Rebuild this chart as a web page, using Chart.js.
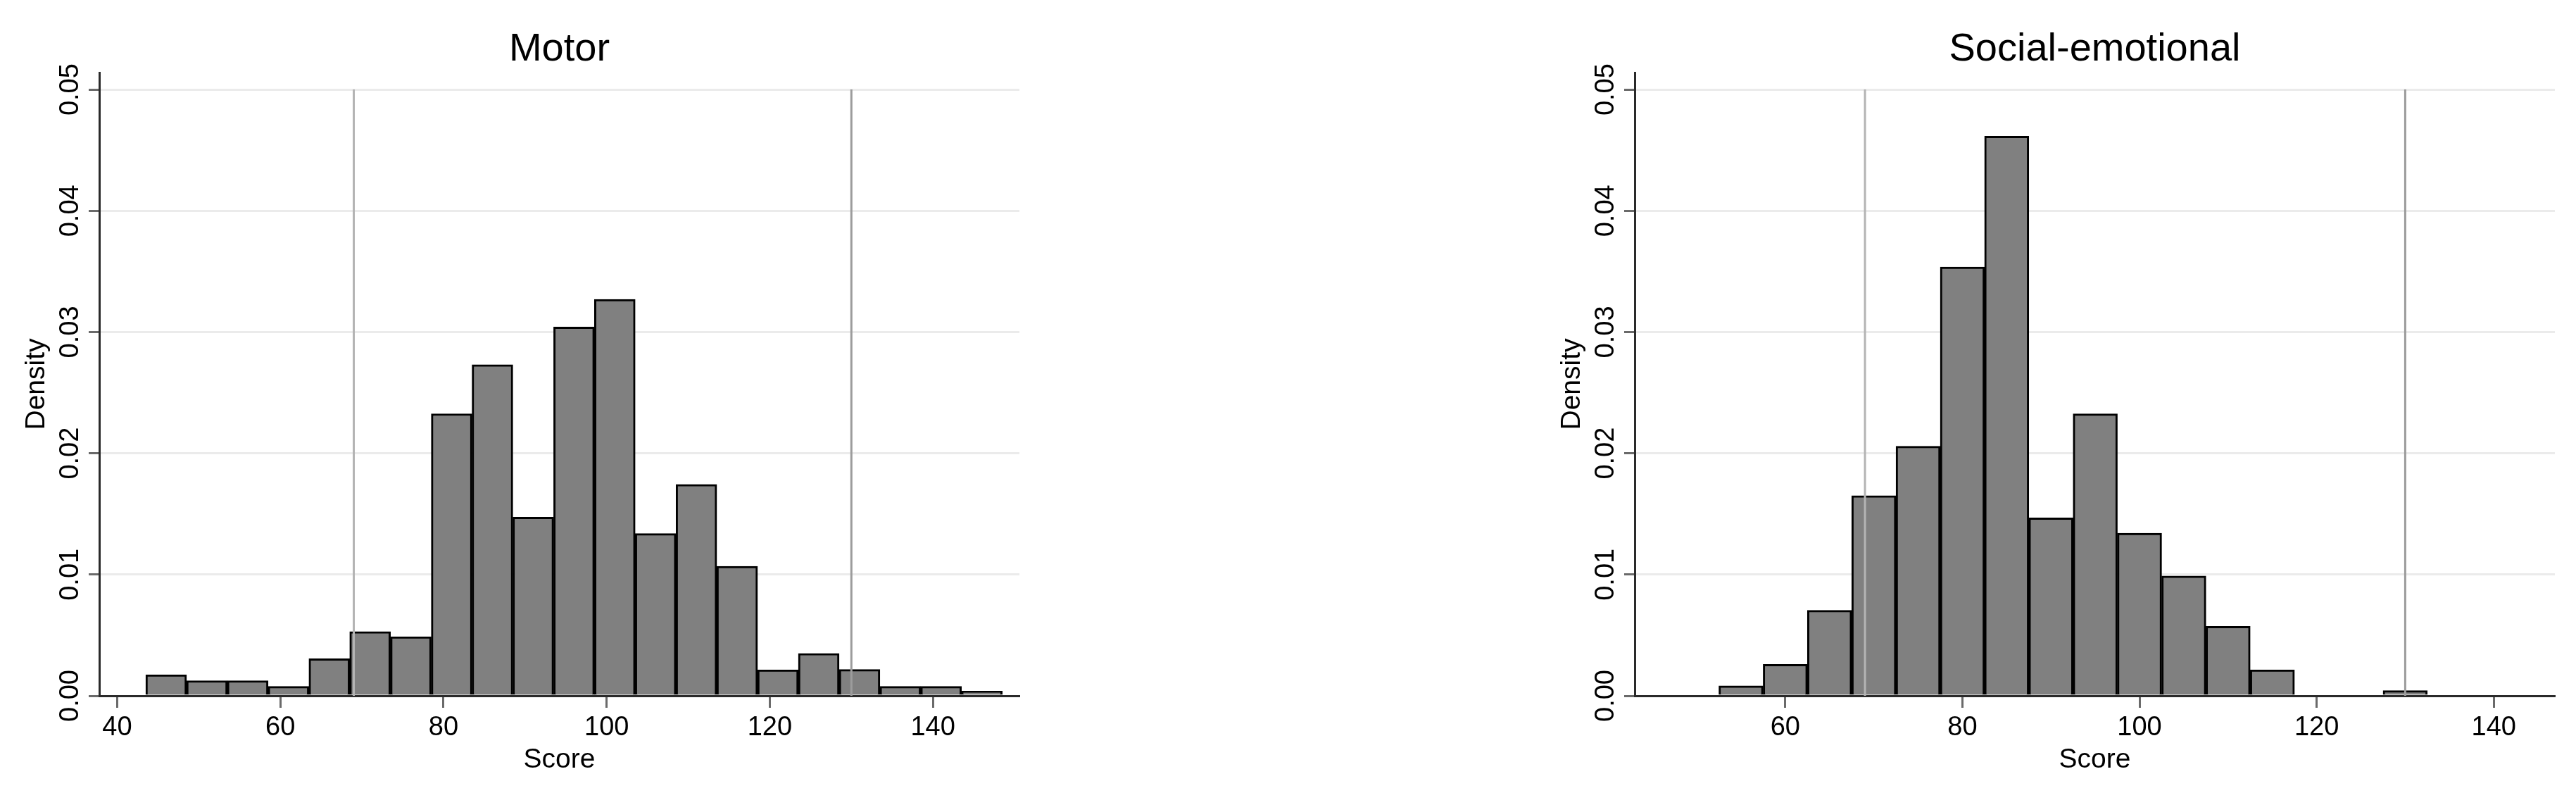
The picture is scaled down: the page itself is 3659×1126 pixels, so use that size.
<!DOCTYPE html>
<html>
<head>
<meta charset="utf-8">
<title>Motor / Social-emotional score histograms</title>
<script src="https://cdn.jsdelivr.net/npm/chart.js@4.4.1/dist/chart.umd.min.js"></script>
<style>
  html, body { margin: 0; padding: 0; background: #fff; }
  #wrap { position: relative; width: 3659px; height: 1126px; overflow: hidden; }
  canvas { position: absolute; top: 0; }
  #c-motor  { left: 0; }
  #c-social { left: 1830px; }
</style>
</head>
<body>
<div id="wrap">
  <canvas id="c-motor"  width="1830" height="1126"></canvas>
  <canvas id="c-social" width="1829" height="1126"></canvas>
</div>
<script>
// ── Data (bin centres, bin width 5) ─────────────
const MOTOR_BINS    = [46, 51, 56, 61, 66, 71, 76, 81, 86, 91, 96, 101, 106, 111, 116, 121, 126, 131, 136, 141, 146];
const MOTOR_DENSITY = [0.00174, 0.00125, 0.00125, 0.00078, 0.00306, 0.00529, 0.00488, 0.02326, 0.02731, 0.01474, 0.03042, 0.03269,
                       0.01338, 0.01743, 0.01068, 0.00215, 0.00350, 0.00217, 0.00078, 0.00078, 0.00039];

const SOCIAL_BINS    = [55, 60, 65, 70, 75, 80, 85, 90, 95, 100, 105, 110, 115, 130];
const SOCIAL_DENSITY = [0.00082, 0.00259, 0.00705, 0.01650, 0.02058, 0.03537, 0.04615, 0.01468, 0.02325, 0.01341, 0.00988, 0.00573, 0.00215, 0.00043];

const REF_LINES  = [69, 130];
const Y_TICK_MAX = 0.05;
const X_TICKS_STEP = 20;
const Y_TICKS_STEP = 0.01;

const FONT = '"Liberation Sans", Arial, Helvetica, sans-serif';
Chart.defaults.font.family = FONT;
Chart.defaults.color = '#000';

// ── Stata-like text: titles, rotated y labels ───
const stataText = {
  id: 'stataText',
  afterDraw(chart, args, opts) {
    const { ctx, chartArea: a } = chart;
    const y = chart.scales.y;
    const cx = (a.left + a.right) / 2;
    ctx.save();
    ctx.fillStyle = '#000';
    ctx.textAlign = 'center';
    ctx.textBaseline = 'alphabetic';

    ctx.font = '56px ' + FONT;
    ctx.fillText(opts.title, cx, 86);

    ctx.font = '39px ' + FONT;
    ctx.fillText('Score', cx, 1090);

    ctx.font = '38px ' + FONT;
    y.ticks.forEach(t => {
      const py = y.getPixelForValue(t.value);
      ctx.save();
      ctx.translate(a.left - 30, py);
      ctx.rotate(-Math.PI / 2);
      ctx.fillText(t.value.toFixed(2), 0, 0);
      ctx.restore();
    });

    ctx.font = '39px ' + FONT;
    ctx.save();
    ctx.translate(a.left - 78, (a.top + a.bottom) / 2);
    ctx.rotate(-Math.PI / 2);
    ctx.fillText('Density', 0, 0);
    ctx.restore();
    ctx.restore();
  },
};

function makeHist(canvasId, title, bins, density, xMin, xMax, padLeft, padRight) {
  const bars = bins.map((b, i) => ({ x: b, y: density[i] }));
  const refSets = REF_LINES.map((v, i) => ({
    type: 'line',
    data: [{ x: v, y: 0 }, { x: v, y: Y_TICK_MAX }],
    borderColor: i === 0 ? '#b4b4b4' : '#9c9c9c',
    borderWidth: 3,
    pointRadius: 0,
    order: 0,
  }));

  return new Chart(document.getElementById(canvasId), {
    type: 'bar',
    data: {
      datasets: [
        {
          label: title,
          data: bars,
          backgroundColor: '#808080',
          borderColor: '#000',
          borderWidth: 3,
          barPercentage: 1,
          categoryPercentage: 1,
          order: 1,
        },
        ...refSets,
      ],
    },
    options: {
      responsive: false,
      animation: false,
      devicePixelRatio: 1,
      layout: { padding: { left: padLeft, top: 103, right: padRight, bottom: 0 } },
      plugins: {
        legend: { display: false },
        tooltip: { enabled: false },
        title: { display: false },
        stataText: { title },
      },
      scales: {
        x: {
          type: 'linear',
          min: xMin,
          max: xMax,
          offset: false,
          ticks: { stepSize: X_TICKS_STEP, includeBounds: false, padding: 6, font: { size: 38 }, color: '#000', maxRotation: 0 },
          grid: { offset: false, drawOnChartArea: false, drawTicks: true, tickLength: 17, tickWidth: 3, tickColor: '#6a6a6a' },
          border: { color: '#2a2a2a', width: 3 },
          afterFit: s => { s.height = 138; },
        },
        y: {
          type: 'linear',
          min: 0,
          max: 0.0514,
          ticks: { display: false, stepSize: Y_TICKS_STEP, includeBounds: false },
          grid: { color: '#ebebeb', lineWidth: 3, drawTicks: true, tickLength: 15, tickWidth: 3, tickColor: '#6a6a6a' },
          border: { color: '#2a2a2a', width: 3 },
          afterFit: s => { s.width = 141; },
        },
      },
    },
    plugins: [stataText],
  });
}

makeHist('c-motor',  'Motor',            MOTOR_BINS,  MOTOR_DENSITY,  37.8, 150.6, 0,   382);
makeHist('c-social', 'Social-emotional', SOCIAL_BINS, SOCIAL_DENSITY, 43.0, 146.9, 351, 30);
</script>
</body>
</html>
